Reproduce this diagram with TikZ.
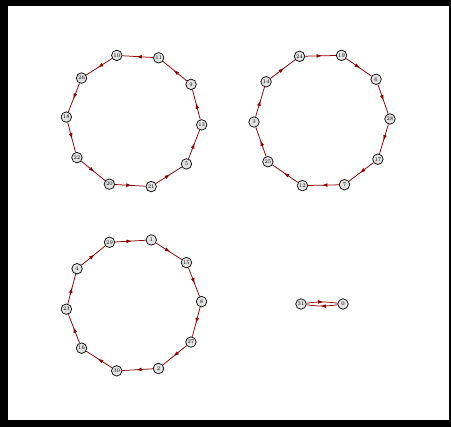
\documentclass[tikz,border=0pt]{standalone}
\usetikzlibrary{arrows.meta,decorations.markings}
\definecolor{edgecol}{RGB}{139,0,0}
\tikzset{
  vtx/.style={circle,draw=black,line width=0.7pt,fill=gray!22,minimum size=10.5pt,inner sep=0pt,font=\fontsize{5.5}{5.5}\selectfont},
  edge/.style={color=edgecol,line width=0.75pt,postaction={decorate},
    decoration={markings,mark=at position 0.55 with {\arrow{Latex[length=5.5pt,width=3.8pt]}}}}
}
\begin{document}
\begin{tikzpicture}[x=1pt,y=-1pt]
\useasboundingbox (0,0) rectangle (451,427);
\fill[black] (0,0) rectangle (451,427);
\fill[white] (7.5,6) rectangle (449,420);
% cycle 1
\begin{scope}[shift={(134,121)}]
\node[vtx] (n10) at (-104.7:67.8) {10};
\node[vtx] (n11) at (-68.7:67.8) {11};
\node[vtx] (n9) at (-32.7:67.8) {9};
\node[vtx] (n13) at (3.3:67.8) {13};
\node[vtx] (n5) at (39.3:67.8) {5};
\node[vtx] (n21) at (75.3:67.8) {21};
\node[vtx] (n20) at (111.3:67.8) {20};
\node[vtx] (n22) at (147.3:67.8) {22};
\node[vtx] (n18) at (183.3:67.8) {18};
\node[vtx] (n26) at (219.3:67.8) {26};
\end{scope}
% cycle 2
\begin{scope}[shift={(322,120.5)}]
\node[vtx] (n24) at (-109.3:68) {24};
\node[vtx] (n19) at (-73.3:68) {19};
\node[vtx] (n6) at (-37.3:68) {6};
\node[vtx] (n28) at (-1.3:68) {28};
\node[vtx] (n17) at (34.7:68) {17};
\node[vtx] (n7) at (70.7:68) {7};
\node[vtx] (n12) at (106.7:68) {12};
\node[vtx] (n25) at (142.7:68) {25};
\node[vtx] (n3) at (178.7:68) {3};
\node[vtx] (n14) at (214.7:68) {14};
\end{scope}
% cycle 3
\begin{scope}[shift={(134,305.4)}]
\node[vtx] (n1) at (-75.2:67.7) {1};
\node[vtx] (n29) at (-111.2:67.7) {29};
\node[vtx] (n4) at (-147.2:67.7) {4};
\node[vtx] (n23) at (-183.2:67.7) {23};
\node[vtx] (n16) at (-219.2:67.7) {16};
\node[vtx] (n30) at (-255.2:67.7) {30};
\node[vtx] (n2) at (-291.2:67.7) {2};
\node[vtx] (n27) at (-327.2:67.7) {27};
\node[vtx] (n8) at (-3.2:67.7) {8};
\node[vtx] (n15) at (-39.2:67.7) {15};
\end{scope}
% cycle 4
\node[vtx] (n31) at (301,304) {31};
\node[vtx] (n0) at (343,304) {0};
% edges cycle 1
\draw[edge] (n11) -- (n10);
\draw[edge] (n10) -- (n26);
\draw[edge] (n26) -- (n18);
\draw[edge] (n18) -- (n22);
\draw[edge] (n22) -- (n20);
\draw[edge] (n20) -- (n21);
\draw[edge] (n21) -- (n5);
\draw[edge] (n5) -- (n13);
\draw[edge] (n13) -- (n9);
\draw[edge] (n9) -- (n11);
% edges cycle 2
\draw[edge] (n3) -- (n14);
\draw[edge] (n14) -- (n24);
\draw[edge] (n24) -- (n19);
\draw[edge] (n19) -- (n6);
\draw[edge] (n6) -- (n28);
\draw[edge] (n28) -- (n17);
\draw[edge] (n17) -- (n7);
\draw[edge] (n7) -- (n12);
\draw[edge] (n12) -- (n25);
\draw[edge] (n25) -- (n3);
% edges cycle 3
\draw[edge] (n29) -- (n1);
\draw[edge] (n1) -- (n15);
\draw[edge] (n15) -- (n8);
\draw[edge] (n8) -- (n27);
\draw[edge] (n27) -- (n2);
\draw[edge] (n2) -- (n30);
\draw[edge] (n30) -- (n16);
\draw[edge] (n16) -- (n23);
\draw[edge] (n23) -- (n4);
\draw[edge] (n4) -- (n29);
% cycle 4
\draw[edge] (n31) to[bend left=8] (n0);
\draw[edge] (n0) to[bend left=8] (n31);
\end{tikzpicture}
\end{document}
